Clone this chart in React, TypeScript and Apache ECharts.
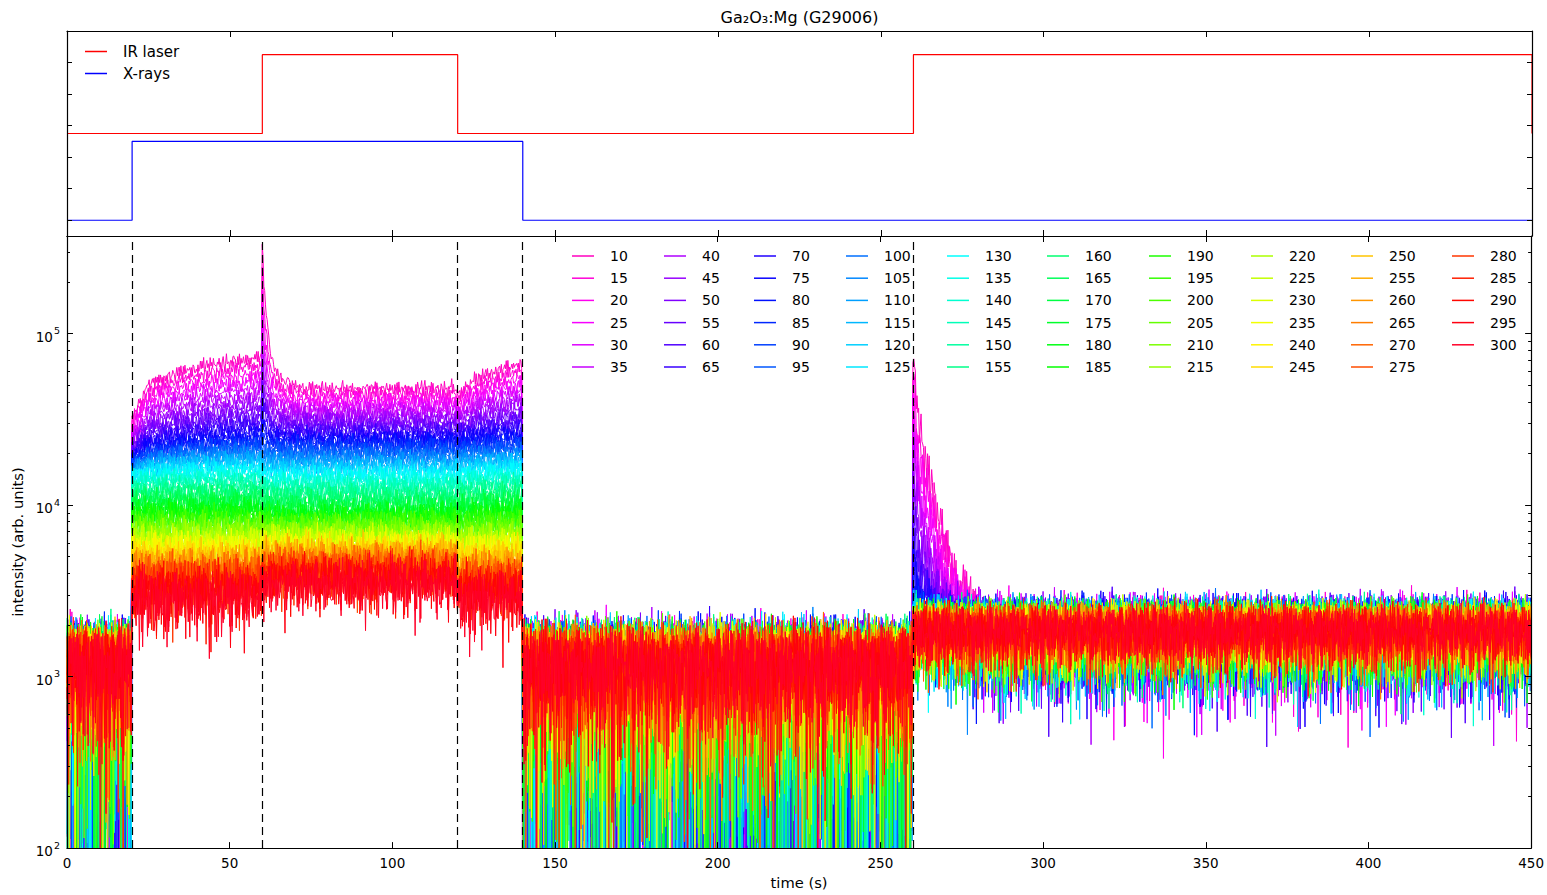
import React, { useEffect, useRef } from "react";
import * as echarts from "echarts";

// ---------------- data ----------------
const temperatures = [
  10, 15, 20, 25, 30, 35, 40, 45, 50, 55, 60, 65, 70, 75, 80, 85, 90, 95, 100, 105,
  110, 115, 120, 125, 130, 135, 140, 145, 150, 155, 160, 165, 170, 175, 180, 185, 190, 195, 200, 205,
  210, 215, 220, 225, 230, 235, 240, 245, 250, 255, 260, 265, 270, 275, 280, 285, 290, 295, 300,
];

// intensity just after X-rays on (t = 20 s)
const startXray = [
  32000, 30000, 28400, 27000, 25800, 24700, 23700, 22800, 22000, 21200,
  20500, 19900, 19300, 18800, 18300, 17900, 17500, 17100, 16700, 16300,
  15950, 15600, 15250, 14900, 14600, 14000, 13400, 12800, 12300, 11750,
  11250, 10750, 10300, 9800, 9300, 8900, 8500, 8100, 7750, 7400,
  7050, 6730, 6420, 6130, 5850, 5590, 5350, 5080, 4830, 4580,
  4340, 4120, 3910, 3710, 3520, 3340, 3170, 3010, 2870,
];
// intensity just before IR laser on (t = 60 s)
const endXray = [
  73300, 65500, 59000, 53500, 48800, 44800, 41300, 38300, 35600, 33200,
  31100, 29200, 27500, 25900, 24500, 23500, 22540, 21610, 20730, 19880,
  19070, 18290, 17540, 16820, 16100, 15250, 14430, 13670, 12940, 12250,
  11600, 10980, 10400, 9850, 9400, 8970, 8560, 8170, 7800, 7440,
  7100, 6780, 6470, 6180, 5900, 5630, 5400, 5120, 4860, 4610,
  4370, 4150, 3940, 3730, 3540, 3360, 3190, 3030, 2890,
];
// plateau with X-rays + IR laser (60-120 s)
const plateauIR = [
  47900, 44500, 41700, 39300, 37200, 35300, 33500, 31900, 30400, 29000,
  27700, 26400, 25300, 24300, 23400, 22390, 21420, 20490, 19610, 18760,
  17950, 17170, 16430, 15720, 15000, 14200, 13470, 12760, 12100, 11460,
  10860, 10300, 9760, 9250, 8800, 8480, 8170, 7870, 7580, 7300,
  7040, 6780, 6530, 6290, 6060, 5840, 5650, 5430, 5220, 5010,
  4810, 4620, 4440, 4260, 4090, 3930, 3770, 3620, 3470,
];
// after IR laser off (t = 120 s) and before X-rays off (t = 140 s)
const postIrStart = [
  43800, 41000, 38700, 36700, 34900, 33300, 31900, 30500, 29200, 28000,
  26900, 25800, 24900, 24000, 23100, 22200, 21300, 20400, 19550, 18750,
  17950, 17200, 16450, 15750, 15050, 14300, 13600, 12900, 12250, 11650,
  11050, 10450, 9900, 9400, 8900, 8500, 8100, 7720, 7350, 7000,
  6680, 6370, 6070, 5790, 5520, 5260, 5020, 4780, 4550, 4330,
  4120, 3920, 3730, 3550, 3380, 3220, 3060, 2910, 2760,
];
const postIrEnd = [
  67000, 60500, 55000, 50300, 46200, 42700, 39600, 36900, 34500, 32300,
  30400, 28700, 27100, 25700, 24400, 23500, 22540, 21610, 20730, 19880,
  19070, 18290, 17540, 16820, 16100, 15250, 14430, 13670, 12940, 12250,
  11600, 10980, 10400, 9850, 9400, 8970, 8560, 8170, 7800, 7440,
  7100, 6780, 6470, 6180, 5900, 5630, 5400, 5120, 4860, 4610,
  4370, 4150, 3940, 3730, 3540, 3360, 3190, 3030, 2890,
];
// flash when the IR laser turns on at 60 s (excess above plateau)
const spike60Amp = [
  300000, 200000, 145000, 110000, 85000, 66000, 52000, 41000, 32000, 25000,
  20000, 15000, 11000, 8000, 6000, 4000, 2500, 1500, 800, 0,
  0, 0, 0, 0, 0, 0, 0, 0, 0, 0,
  0, 0, 0, 0, 0, 0, 0, 0, 0, 0,
  0, 0, 0, 0, 0, 0, 0, 0, 0, 0,
  0, 0, 0, 0, 0, 0, 0, 0, 0,
];
// stimulated emission when the IR laser turns on at 260 s (excess above background)
const afterglow260 = [
  78000, 60000, 47000, 37000, 29000, 23000, 18000, 14000, 11000, 8500,
  6600, 5100, 3900, 3000, 2300, 1700, 1250, 900, 650, 450,
  300, 200, 100, 0, 0, 0, 0, 0, 0, 0,
  0, 0, 0, 0, 0, 0, 0, 0, 0, 0,
  0, 0, 0, 0, 0, 0, 0, 0, 0, 0,
  0, 0, 0, 0, 0, 0, 0, 0, 0,
];
// background (X-rays off) mean, relative to darkBackground
const backgroundScale = [
  0.95, 0.95, 0.95, 0.95, 0.96, 0.96, 0.96, 0.96, 0.97, 0.97,
  0.97, 0.97, 0.98, 0.98, 0.98, 0.99, 0.99, 0.99, 1.0, 1.0,
  1.0, 1.01, 1.01, 1.02, 1.02, 1.03, 1.03, 1.04, 1.04, 1.05,
  1.05, 1.06, 1.06, 1.07, 1.07, 1.08, 1.08, 1.09, 1.09, 1.1,
  1.1, 1.11, 1.11, 1.12, 1.12, 1.13, 1.13, 1.14, 1.14, 1.15,
  1.15, 1.15, 1.15, 1.15, 1.15, 1.15, 1.15, 1.15, 1.15,
];
// spread of the background noise of each curve
const noiseScale = [
  1.1, 1.095, 1.09, 1.085, 1.08, 1.075, 1.07, 1.065, 1.06, 1.055,
  1.05, 1.045, 1.04, 1.035, 1.03, 1.025, 1.02, 1.015, 1.01, 1.005,
  1.0, 0.995, 0.99, 0.985, 0.98, 0.97, 0.96, 0.95, 0.94, 0.93,
  0.92, 0.91, 0.9, 0.89, 0.88, 0.87, 0.86, 0.85, 0.845, 0.84,
  0.835, 0.83, 0.825, 0.82, 0.815, 0.81, 0.805, 0.8, 0.8, 0.8,
  0.8, 0.8, 0.8, 0.8, 0.8, 0.8, 0.8, 0.8, 0.8,
];
// time shapes read from the upper envelope
const riseShape = [0, 0.3, 0.54, 0.6, 0.66, 0.715, 0.755, 0.79, 0.82, 0.85, 0.875, 0.895, 0.915, 0.935, 0.955, 0.975, 1.0]; // every 2.5 s, 20-60 s
const postIrShape = [0, 0.27, 0.44, 0.57, 0.68, 0.78, 0.87, 0.94, 1.0]; // every 2.5 s, 120-140 s
const spike60Decay = [1, 0.5, 0.33, 0.22, 0.15, 0.106, 0.078, 0.06, 0.047, 0.038, 0.032, 0.027, 0.023, 0.02, 0.017, 0.015, 0.013, 0.011, 0.0095, 0.008, 0.007, 0.006, 0.005, 0.004, 0.003, 0.002, 0.001, 0]; // every 0.5 s
const afterglowDecay = [1, 0.53, 0.33, 0.25, 0.21, 0.18, 0.14, 0.11, 0.088, 0.07, 0.056, 0.045, 0.037, 0.03, 0.025, 0.02, 0.017, 0.014, 0.011, 0.009, 0.007, 0.005, 0.003, 0.002, 0.001, 0]; // every 1 s

const darkBackground = 1000;
const darkNoise = 520;
const irBackground = 1850;
const irNoise = 480;
const xrayNoise = 650;
const relativeNoise = 0.05;
const afterglowNoise = 0.2;

// fixed, hand-typed noise tables (standard-normal-like)
const noiseA = [0.31, -1.12, 0.85, -0.27, 1.64, -0.58, 0.04, -1.83, 0.72, 1.21, -0.44, -0.96, 0.18, 2.05, -1.37, 0.59, -0.11, -0.73, 1.02, 0.36, -2.11, 0.88, -0.05, 1.45, -0.62, -1.28, 0.23, 0.67, -0.35, 1.89, -0.91, 0.12, -1.55, 0.49, 0.97, -0.19, -0.81, 1.33, -1.04, 0.41, 0.08, -1.66, 1.15, -0.29, 0.63, -0.52, 1.71, -1.21, 0.26, -0.07, 0.94, -1.42, 0.55, -0.87, 1.27, -0.15, 0.38, -1.95, 0.79, 0.02, -0.68];
const noiseB = [-0.47, 0.92, -1.31, 0.15, 1.58, -0.76, 0.33, -0.09, -1.69, 1.07, 0.51, -0.24, 2.14, -1.03, 0.69, -0.58, 0.21, -1.47, 1.36, -0.13, 0.84, -0.92, 0.05, 1.19, -1.88, 0.44, -0.36, 0.97, -0.66, 1.52, -1.15, 0.28, -0.02, 0.73, -1.26, 1.84, -0.41, 0.11, -0.85, 0.62, 1.29, -1.58, 0.39, -0.18, 0.9, -0.71, -1.99, 1.11, 0.25, -0.53, 0.66, -1.09, 1.43, 0.07, -0.31, 0.81, -1.36, 0.47, -0.62, 1.68, -0.94, 0.19, -0.26, 1.01, -1.74, 0.56, -0.12];

// top panel: on/off states
const irTimes = [0, 60, 120, 260, 450];
const irLevels = [1.1, 2.1, 1.1, 2.1, 1.1];
const xrayTimes = [0, 20, 140, 450];
const xrayLevels = [0, 1, 0, 0];
const switchTimes = [20, 60, 120, 140, 260];
const topTicks = [0, 0.4, 0.8, 1.2, 1.6, 2.0];

// ---------------- helpers ----------------
const FONT = "DejaVu Sans";
const STEP = 0.25;
const N = 450 / STEP + 1;

function shapeAt(shape: number[], stepSec: number, dt: number) {
  const p = dt / stepSec;
  const i = Math.floor(p);
  if (i >= shape.length - 1) return shape[shape.length - 1];
  const f = p - i;
  return shape[i] + (shape[i + 1] - shape[i]) * f;
}
function logMix(a: number, b: number, f: number) {
  return Math.exp(Math.log(a) + (Math.log(b) - Math.log(a)) * f);
}
function seriesValues(s: number): [number, number][] {
  const out: [number, number][] = [];
  for (let i = 0; i < N; i++) {
    const t = i * STEP;
    let level: number;
    let sd: number;
    if (t < 20 || (t >= 140 && t < 260)) {
      level = darkBackground * backgroundScale[s];
      sd = darkNoise * noiseScale[s];
    } else if (t < 60) {
      level = logMix(startXray[s], endXray[s], shapeAt(riseShape, 2.5, t - 20));
      sd = Math.hypot(xrayNoise, relativeNoise * level);
    } else if (t < 120) {
      level = plateauIR[s] + spike60Amp[s] * shapeAt(spike60Decay, 0.5, t - 60);
      sd = Math.hypot(xrayNoise, relativeNoise * level);
    } else if (t < 140) {
      level = logMix(postIrStart[s], postIrEnd[s], shapeAt(postIrShape, 2.5, t - 120));
      sd = Math.hypot(xrayNoise, relativeNoise * level);
    } else {
      const glow = afterglow260[s] * shapeAt(afterglowDecay, 1, t - 260);
      level = irBackground + glow;
      sd = Math.hypot(irNoise * noiseScale[s], afterglowNoise * glow);
    }
    const n = (noiseA[(i + 7 * s) % noiseA.length] + noiseB[(3 * i + 11 * s) % noiseB.length]) * Math.SQRT1_2;
    out.push([t, Math.max(20, level + sd * n)]);
  }
  return out;
}

// matplotlib gist_rainbow colour map
const rainbowStops: [number, number[]][] = [
  [0.0, [1, 0, 0.16]], [0.03, [1, 0, 0]], [0.215, [1, 1, 0]], [0.4, [0, 1, 0]],
  [0.586, [0, 1, 1]], [0.77, [0, 0, 1]], [0.954, [1, 0, 1]], [1.0, [1, 0, 0.75]],
];
function gistRainbow(p: number) {
  let k = 0;
  while (k < rainbowStops.length - 2 && p > rainbowStops[k + 1][0]) k++;
  const [p0, c0] = rainbowStops[k];
  const [p1, c1] = rainbowStops[k + 1];
  const f = Math.min(1, Math.max(0, (p - p0) / (p1 - p0)));
  const c = c0.map((v, j) => Math.round(255 * (v + (c1[j] - v) * f)));
  return `rgb(${c[0]},${c[1]},${c[2]})`;
}
const colorOf = (s: number) => gistRainbow(1 - s / (temperatures.length - 1));

function logLabel(v: number) {
  const e = Math.log10(v);
  if (Math.abs(e - Math.round(e)) > 1e-6) return "";
  return "{b|10}{s|" + Math.round(e) + "}";
}
const minorTicks: number[] = [];
for (let e = 2; e <= 5; e++) for (let m = 2; m <= 9; m++) minorTicks.push(m * Math.pow(10, e));

const legendColumnsX = [572, 664, 754, 846, 947, 1047, 1149, 1251, 1351, 1452];

function buildOption(): any {
  const frame = { show: true, onZero: false, lineStyle: { color: "#000", width: 1.2 } };
  const tickStyle = { color: "#000", width: 1 };
  const xBase = (gridIndex: number, position: string, labels: boolean) => ({
    gridIndex,
    type: "value",
    min: 0,
    max: 450,
    interval: 50,
    position,
    z: 10,
    axisLine: frame,
    axisTick: { show: true, inside: true, length: 6, lineStyle: tickStyle },
    axisLabel: labels
      ? { show: true, color: "#000", fontFamily: FONT, fontSize: 13.5, margin: 8 }
      : { show: false },
    splitLine: { show: false },
  });
  const yTop = (position: string) => ({
    gridIndex: 0,
    type: "value",
    min: -0.2,
    max: 2.4,
    position,
    z: 10,
    axisLine: frame,
    axisTick: { show: true, inside: true, length: 5, customValues: topTicks, lineStyle: tickStyle },
    axisLabel: { show: false },
    splitLine: { show: false },
  });
  const yLog = (position: string, labels: boolean) => ({
    gridIndex: 1,
    type: "log",
    logBase: 10,
    min: 100,
    max: 371000,
    position,
    z: 10,
    axisLine: frame,
    axisTick: { show: true, inside: true, length: 6, lineStyle: tickStyle },
    axisLabel: labels
      ? {
          show: true,
          formatter: logLabel,
          color: "#000",
          fontFamily: FONT,
          margin: 7,
          showMaxLabel: false,
          rich: {
            b: { fontFamily: FONT, fontSize: 13.5, color: "#000", lineHeight: 20, verticalAlign: "bottom" },
            s: { fontFamily: FONT, fontSize: 9.5, color: "#000", lineHeight: 20, verticalAlign: "top", padding: [2, 0, 0, 1] },
          },
        }
      : { show: false },
    splitLine: { show: false },
  });
  const yMinor = (position: string) => ({
    gridIndex: 1,
    type: "log",
    logBase: 10,
    min: 100,
    max: 371000,
    position,
    z: 10,
    axisLine: { show: false, onZero: false },
    axisTick: { show: true, inside: true, length: 3, customValues: minorTicks, lineStyle: tickStyle },
    axisLabel: { show: false },
    splitLine: { show: false },
  });

  const dataSeries = temperatures.map((T, s) => ({
    type: "line",
    name: String(T),
    xAxisIndex: 2,
    yAxisIndex: 2,
    data: seriesValues(s),
    showSymbol: false,
    symbol: "none",
    silent: true,
    animation: false,
    lineStyle: { color: colorOf(s), width: 1 },
    itemStyle: { color: colorOf(s) },
    z: 2,
  }));

  const legends: any[] = legendColumnsX.map((x, c) => ({
    orient: "vertical",
    left: x,
    top: 249,
    padding: 0,
    itemWidth: 22,
    itemHeight: 1.5,
    itemGap: 8.2,
    icon: "rect",
    selectedMode: false,
    data: temperatures.slice(c * 6, c * 6 + 6).map(String),
    formatter: "{a|{name}}",
    textStyle: {
      fontFamily: FONT,
      fontSize: 14,
      color: "#000",
      rich: { a: { fontFamily: FONT, fontSize: 14, color: "#000", lineHeight: 16, padding: [0, 0, 0, 11] } },
    },
  }));
  legends.push({
    orient: "vertical",
    left: 85,
    top: 44,
    padding: 0,
    itemWidth: 22,
    itemHeight: 1.5,
    itemGap: 7,
    icon: "rect",
    selectedMode: false,
    data: ["IR laser", "X-rays"],
    formatter: "{a|{name}}",
    textStyle: {
      fontFamily: FONT,
      fontSize: 15,
      color: "#000",
      rich: { a: { fontFamily: FONT, fontSize: 15, color: "#000", lineHeight: 16, padding: [0, 0, 0, 11] } },
    },
  });

  return {
    animation: false,
    backgroundColor: "#fff",
    textStyle: { fontFamily: FONT },
    graphic: [
      {
        type: "text",
        silent: true,
        style: {
          text: "Ga₂O₃:Mg (G29006)",
          x: 799.5,
          y: 17,
          align: "center",
          verticalAlign: "middle",
          fontFamily: FONT,
          fontSize: 16,
          fill: "#000",
        },
      },
    ],
    grid: [
      { left: 67, top: 31, width: 1465, height: 205, show: false },
      { left: 67, top: 236, width: 1465, height: 616, show: false },
    ],
    legend: legends,
    xAxis: [
      xBase(0, "bottom", false),
      xBase(0, "top", false),
      {
        ...xBase(1, "bottom", true),
        name: "time (s)",
        nameLocation: "middle",
        nameGap: 24,
        nameTextStyle: { fontFamily: FONT, fontSize: 14.7, color: "#000" },
      },
      xBase(1, "top", false),
    ],
    yAxis: [
      yTop("left"),
      yTop("right"),
      {
        ...yLog("left", true),
        name: "intensity (arb. units)",
        nameLocation: "middle",
        nameGap: 39,
        nameTextStyle: { fontFamily: FONT, fontSize: 14.7, color: "#000" },
      },
      yLog("right", false),
      yMinor("left"),
      yMinor("right"),
    ],
    series: [
      {
        type: "line",
        name: "IR laser",
        xAxisIndex: 0,
        yAxisIndex: 0,
        step: "end",
        data: irTimes.map((t, i) => [t, irLevels[i]]),
        showSymbol: false,
        symbol: "none",
        lineStyle: { color: "#ff0000", width: 1.2 },
        itemStyle: { color: "#ff0000" },
        silent: true,
      },
      {
        type: "line",
        name: "X-rays",
        xAxisIndex: 0,
        yAxisIndex: 0,
        step: "end",
        data: xrayTimes.map((t, i) => [t, xrayLevels[i]]),
        showSymbol: false,
        symbol: "none",
        lineStyle: { color: "#0000ff", width: 1.2 },
        itemStyle: { color: "#0000ff" },
        silent: true,
      },
      ...dataSeries,
      {
        type: "line",
        name: "switch",
        xAxisIndex: 2,
        yAxisIndex: 2,
        data: [],
        silent: true,
        z: 5,
        markLine: {
          silent: true,
          symbol: ["none", "none"],
          label: { show: false },
          animation: false,
          lineStyle: { color: "#000", width: 1.2, type: [8, 5] },
          data: switchTimes.map((t) => ({ xAxis: t })),
        },
      },
    ],
  };
}

export default function App() {
  const ref = useRef<HTMLDivElement>(null);
  useEffect(() => {
    if (!ref.current) return;
    const chart = echarts.init(ref.current, null, { renderer: "svg" });
    chart.setOption(buildOption());
    return () => chart.dispose();
  }, []);
  return (
    <div
      ref={ref}
      style={{ position: "fixed", left: 0, top: 0, width: 1547, height: 895, background: "#fff" }}
    />
  );
}
